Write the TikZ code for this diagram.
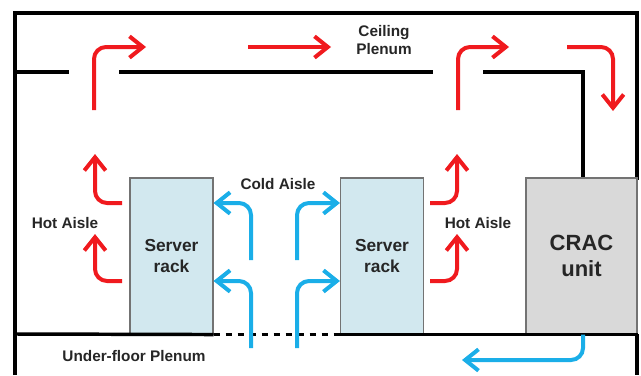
\documentclass[tikz,border=0pt]{standalone}
\usepackage{fontspec}
\setmainfont{Liberation Sans}
\usepackage{tikz}
\usetikzlibrary{arrows.meta,positioning}

\definecolor{hotred}{HTML}{F01A1E}
\definecolor{coldblue}{HTML}{1AAEE8}
\definecolor{rackfill}{HTML}{D2E8EF}
\definecolor{cracfill}{HTML}{D9D9D9}
\definecolor{labeltext}{HTML}{262626}

\begin{document}
\begin{tikzpicture}[x=0.75pt, y=-0.75pt,
    wall/.style={draw=black, line width=2.6pt},
    box/.style={rectangle, draw=gray!90!black, line width=0.8pt, align=center,
    text=labeltext, font=\bfseries, minimum height=117pt},
    rack/.style={box, fill=rackfill, minimum width=62.25pt, font=\bfseries\fontsize{13}{16}\selectfont},
    crac/.style={box, fill=cracfill, minimum width=83.25pt, font=\bfseries\fontsize{16.5}{19.5}\selectfont},
    caption/.style={text=labeltext, font=\bfseries\fontsize{11.5}{14}\selectfont, align=center},
    hot/.style={draw=hotred, line width=3pt, rounded corners=9pt,
    -{Straight Barb[length=10pt, width=16pt, line width=3pt]}},
    cold/.style={hot, draw=coldblue}]

    \useasboundingbox (0,0) rectangle (641,375);

    % room and plenums
    \draw[wall] (15,375) -- (15,13) -- (637,13) -- (637,180);
    \draw[wall] (637,334) -- (637,375);
    \draw[wall] (15,72) -- (69,72);
    \draw[wall] (119,72) -- (433,72);
    \draw[wall] (483,72) -- (583,72) -- (583,180);

    \node (rackL) [rack] at (171.5,256) {Server\\rack};
    \node (rackR) [rack] at (382,256) {Server\\rack};
    \node (crac) [crac] at (581.5,256) {CRAC\\unit};

    \draw[wall] (15,334) -- (rackL.south east);
    \draw[wall, dash pattern=on 5pt off 4pt] (rackL.south east) -- (rackR.south west);
    \draw[wall] (rackR.south west) -- (crac.south east);

    \node (ceiling) [caption] at (384,40) {Ceiling\\Plenum};
    \node (cold) [caption] at (278,184) {Cold Aisle};
    \node (hotL) [caption] at (65,223) {Hot Aisle};
    \node (hotR) [caption] at (478,223) {Hot Aisle};
    \node (underfloor) [caption] at (134,356) {Under-floor Plenum};

    % hot air
    \draw[hot] (94,110) |- (146,47);
    \draw[hot] (248,47) -- (331,47);
    \draw[hot] (458,110) |- (509,47);
    \draw[hot] (567,47) -| (613,111);
    \draw[hot] (122,203) -| (95,154);
    \draw[hot] (122,281) -| (95,234);
    \draw[hot] (430,203) -| (457,154);
    \draw[hot] (430,281) -| (457,234);

    % cold air
    \draw[cold] (251,260) |- (rackL.east |- 0,203);
    \draw[cold] (251,348) |- (rackL.east |- 0,281);
    \draw[cold] (297,260) |- (rackR.west |- 0,203);
    \draw[cold] (297,348) |- (rackR.west |- 0,281);
    \draw[cold] (crac.south) ++(1.5,0) |- (462,360);
\end{tikzpicture}
\end{document}
